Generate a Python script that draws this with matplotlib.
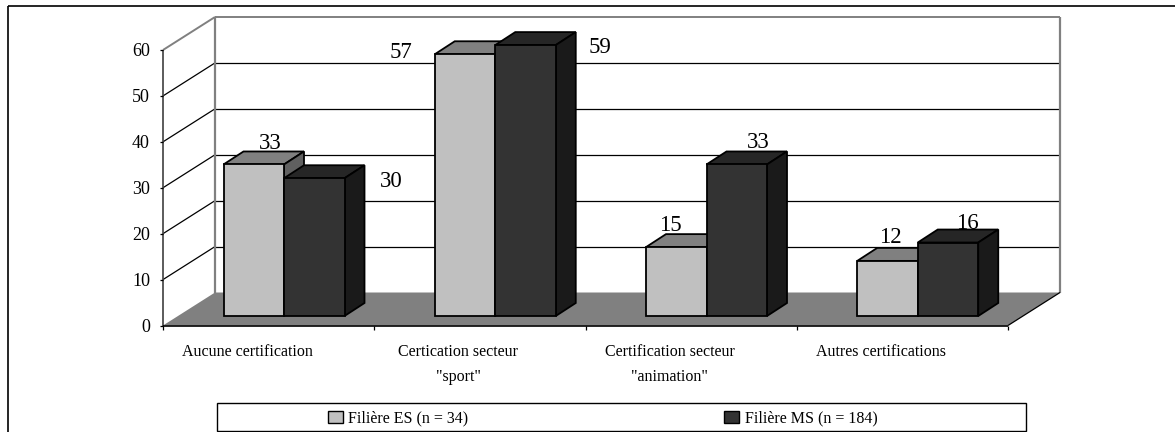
import matplotlib
matplotlib.use('Agg')
import matplotlib.pyplot as plt
from matplotlib.patches import Polygon, Rectangle

categories = ['Aucune certification', 'Certication secteur\n"sport"',
              'Certification secteur\n"animation"', 'Autres certifications']
filiere_es = [33, 57, 15, 12]
filiere_ms = [30, 59, 33, 16]
y_ticks = [0, 10, 20, 30, 40, 50, 60]
legend_labels = ['Filière ES (n = 34)', 'Filière MS (n = 184)']

plt.rcParams['font.family'] = ['Liberation Serif', 'DejaVu Serif']

# everything is laid out in pixels of the original picture
fig = plt.figure(figsize=(11.75, 4.32), dpi=100)
ax = fig.add_axes([0, 0, 1, 1])
ax.set_xlim(0, 1175)
ax.set_ylim(432, 0)
ax.axis('off')

x0, y0 = 163, 325.5     # front corner of the axes
dx, dy = 52, -33        # depth of the whole box
per_unit = 275.5 / 60
group_w = 211.25
bar_w = 60.5
bar_dx, bar_dy = 20, -13
shift_x, shift_y = 15, -9.5   # bars stand a bit inside the floor
right = x0 + 4 * group_w
grey = '#808080'


def yval(v):
    return y0 - v * per_unit


def line(xs, ys, color='black', lw=0.9, z=2):
    ax.plot(xs, ys, color=color, lw=lw, solid_capstyle='butt', zorder=z)


# outer frame, only top and left fall inside the picture
line([7.5, 1175], [5.5, 5.5], 'black', 1.2, 1)
line([7.5, 7.5], [5.5, 432], 'black', 1.2, 1)

# floor
ax.add_patch(Polygon([(x0, y0), (right, y0), (right + dx, y0 + dy), (x0 + dx, y0 + dy)],
                     fc=grey, ec='none', zorder=2))

# walls and grid
for v in y_ticks[1:]:
    col = grey if v == 60 else 'black'
    w = 1.4 if v == 60 else 0.9
    line([x0, x0 + dx], [yval(v), yval(v) + dy], col, w)
    line([x0 + dx, right + dx], [yval(v) + dy, yval(v) + dy], col, w)
line([x0 + dx, x0 + dx], [yval(0) + dy, yval(60) + dy], grey, 1.6)
line([right + dx, right + dx], [yval(0) + dy, yval(60) + dy], grey, 1.6)
line([right, right + dx], [y0, y0 + dy], 'black', 0.9, 3)

# axes
line([x0, x0], [yval(0), yval(60)], '#404040', 1.2, 3)
line([x0, right], [y0, y0], 'black', 1.2, 3)
for v in y_ticks:
    line([x0 - 3, x0], [yval(v), yval(v)], 'black', 0.9, 3)
    ax.text(x0 - 13, yval(v) + 1.5, str(v), ha='right', va='center', fontsize=13, zorder=5)
for i in range(5):
    line([x0 + i * group_w] * 2, [y0, y0 + 4], 'black', 0.9, 3)


def draw_bar(left, val, front, top, side, z):
    base = y0 + shift_y
    h = val * per_unit
    r = left + bar_w
    kw = dict(ec='black', lw=1.3, joinstyle='miter', zorder=z)
    ax.add_patch(Polygon([(left, base - h), (r, base - h), (r + bar_dx, base - h + bar_dy),
                          (left + bar_dx, base - h + bar_dy)], fc=top, **kw))
    ax.add_patch(Polygon([(r, base), (r + bar_dx, base + bar_dy), (r + bar_dx, base - h + bar_dy),
                          (r, base - h)], fc=side, **kw))
    ax.add_patch(Rectangle((left, base - h), bar_w, h, fc=front, **kw))


for i in range(4):
    left = x0 + i * group_w + 45.5 + shift_x
    draw_bar(left, filiere_es[i], '#c0c0c0', '#808080', '#606060', 4 + i)
    draw_bar(left + bar_w, filiere_ms[i], '#333333', '#262626', '#1a1a1a', 4 + i + 0.5)

# data labels, each sits in its own spot in the original and goes behind the bars
es_offset = [(-4, 3), (-84, 22), (-26, 2), (-17, 0)]
ms_offset = [(57, 27), (54, 26), (1, 2), (-1, 4)]
for i in range(4):
    left = x0 + i * group_w + 45.5 + shift_x
    for val, off, xc in [(filiere_es[i], es_offset[i], left + bar_w / 2 + bar_dx),
                         (filiere_ms[i], ms_offset[i], left + 1.5 * bar_w + bar_dx)]:
        ax.text(xc + off[0], y0 + shift_y - val * per_unit + bar_dy + off[1], str(val), ha='center',
                va='bottom', fontsize=16.5, zorder=3)

# category labels
for i, lab in enumerate(categories):
    ax.text(x0 + (i + 0.5) * group_w - 21.5, 344, lab, ha='center', va='top', fontsize=11.5,
            linespacing=1.73, zorder=5)

# legend
ax.add_patch(Rectangle((216.5, 403), 809, 28, fc='white', ec='black', lw=1, zorder=6))
ax.add_patch(Rectangle((327.5, 411), 15, 12, fc='#c0c0c0', ec='black', lw=1, zorder=7))
ax.text(348, 418, legend_labels[0], va='center', fontsize=11.5, zorder=7)
ax.add_patch(Rectangle((723.5, 411), 15, 12, fc='#333333', ec='black', lw=1, zorder=7))
ax.text(745, 418, legend_labels[1], va='center', fontsize=11.5, zorder=7)

fig.savefig('out.png', dpi=100)
